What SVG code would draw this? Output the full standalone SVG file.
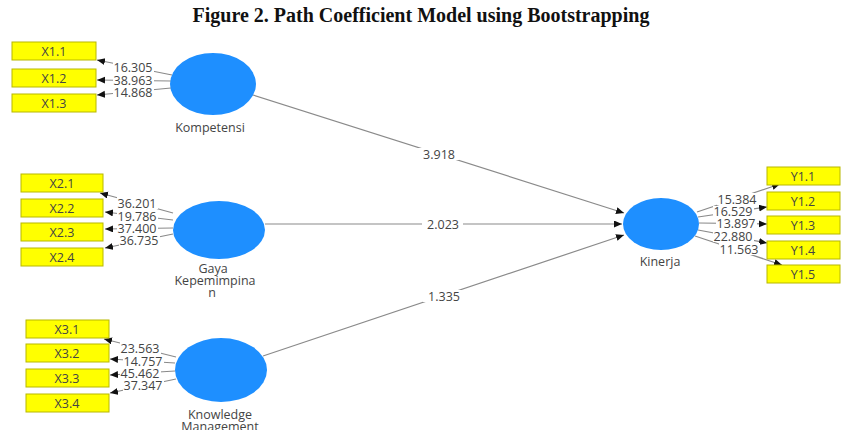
<svg xmlns="http://www.w3.org/2000/svg" width="841" height="430" viewBox="0 0 841 430">
  <style>
    .title { font-family: "Liberation Serif", "Times New Roman", serif; font-weight: bold; font-size: 20px; fill: #111; }
    .txt { font-family: "Open Sans", "Noto Sans", sans-serif; font-size: 12.5px; fill: #444; }
    .num { font-family: "Open Sans", "Noto Sans", sans-serif; font-size: 12.5px; fill: #444; text-anchor: middle; }
    .ind rect { fill: #ffff00; stroke: #b8b800; stroke-width: 1; }
    .ind text { font-family: "Open Sans", "Noto Sans", sans-serif; font-size: 12.5px; fill: #444; text-anchor: middle; }
    .lat ellipse { fill: #1e8fff; }
    .lat text { font-family: "Open Sans", "Noto Sans", sans-serif; font-size: 12.5px; fill: #444; text-anchor: middle; }
    .edge line { stroke: #8a8a8a; stroke-width: 1.2; marker-end: url(#head); }
    .bg { fill: #ffffff; }
  </style>
  <defs>
    <marker id="head" markerUnits="userSpaceOnUse" markerWidth="9" markerHeight="8" refX="8" refY="3.5" orient="auto">
      <path d="M0,0 L8,3.5 L0,7 z" fill="#111"/>
    </marker>
  </defs>

  <rect width="841" height="430" fill="#ffffff"/>
  <text class="title" x="421" y="22" text-anchor="middle">Figure 2. Path Coefficient Model using Bootstrapping</text>

  <!-- connectors -->
  <g id="connectors">
    <g class="edge">
      <!-- Kompetensi loadings -->
      <line x1="172" y1="75" x2="97" y2="60"/>
      <line x1="171" y1="81" x2="97" y2="80"/>
      <line x1="171" y1="88" x2="97" y2="95"/>
      <!-- Gaya Kepemimpinan loadings -->
      <line x1="173" y1="213" x2="100" y2="193"/>
      <line x1="173" y1="220" x2="105" y2="212"/>
      <line x1="173" y1="228" x2="105" y2="229"/>
      <line x1="173" y1="234" x2="105" y2="248"/>
      <!-- Knowledge Management loadings -->
      <line x1="176" y1="357" x2="104" y2="339"/>
      <line x1="175" y1="363" x2="110" y2="359"/>
      <line x1="175" y1="371" x2="110" y2="375"/>
      <line x1="176" y1="379" x2="110" y2="393"/>
      <!-- Kinerja loadings -->
      <line x1="697" y1="212" x2="780" y2="184"/>
      <line x1="698" y1="217" x2="767" y2="207"/>
      <line x1="699" y1="223" x2="767" y2="224"/>
      <line x1="698" y1="230" x2="767" y2="243"/>
      <line x1="695" y1="236" x2="782" y2="265"/>
      <!-- structural paths -->
      <line x1="253" y1="95" x2="624" y2="213"/>
      <line x1="265" y1="224" x2="622" y2="224"/>
      <line x1="263" y1="356" x2="624" y2="235"/>
    </g>

    <!-- coefficient labels -->
    <g id="coef">
      <rect class="bg" x="113" y="61" width="41" height="12"/><text class="num" x="133" y="71.5">16.305</text>
      <rect class="bg" x="113" y="75" width="41" height="12"/><text class="num" x="133" y="85">38.963</text>
      <rect class="bg" x="113" y="87" width="41" height="11"/><text class="num" x="133" y="96.5">14.868</text>

      <rect class="bg" x="117" y="197" width="41" height="12"/><text class="num" x="137" y="207.5">36.201</text>
      <rect class="bg" x="117" y="211" width="41" height="11"/><text class="num" x="137" y="221">19.786</text>
      <rect class="bg" x="117" y="223" width="41" height="11"/><text class="num" x="137" y="233">37.400</text>
      <rect class="bg" x="119" y="235" width="41" height="11"/><text class="num" x="139" y="245">36.735</text>

      <rect class="bg" x="120" y="342" width="41" height="12"/><text class="num" x="140" y="352.5">23.563</text>
      <rect class="bg" x="123" y="356" width="41" height="11"/><text class="num" x="143" y="366">14.757</text>
      <rect class="bg" x="120" y="368" width="41" height="11"/><text class="num" x="140" y="377.5">45.462</text>
      <rect class="bg" x="123" y="380" width="41" height="11"/><text class="num" x="143" y="390">37.347</text>

      <rect class="bg" x="717" y="193" width="41" height="12"/><text class="num" x="737" y="203.5">15.384</text>
      <rect class="bg" x="713" y="206" width="41" height="11"/><text class="num" x="733" y="216">16.529</text>
      <rect class="bg" x="716" y="218" width="41" height="11"/><text class="num" x="736" y="227.5">13.897</text>
      <rect class="bg" x="713" y="230" width="41" height="12"/><text class="num" x="733" y="240.5">22.880</text>
      <rect class="bg" x="719" y="243" width="41" height="12"/><text class="num" x="739" y="253.5">11.563</text>

      <rect class="bg" x="418" y="148" width="41" height="12"/><text class="num" x="439" y="158.5">3.918</text>
      <rect class="bg" x="422" y="218" width="41" height="12"/><text class="num" x="443" y="228.5">2.023</text>
      <rect class="bg" x="423" y="290" width="41" height="12"/><text class="num" x="444" y="300.5">1.335</text>
    </g>
  </g>

  <!-- latent variables -->
  <g id="kompetensi" class="lat">
    <ellipse cx="213" cy="84" rx="43" ry="31"/>
    <text x="210" y="132">Kompetensi</text>
  </g>
  <g id="gaya-kepemimpinan" class="lat">
    <ellipse cx="219" cy="230" rx="46" ry="29"/>
    <text x="213" y="273">Gaya</text>
    <text x="215" y="285">Kepemimpina</text>
    <text x="212" y="297">n</text>
  </g>
  <g id="knowledge-management" class="lat">
    <ellipse cx="221" cy="370" rx="46" ry="32"/>
    <text x="220" y="419">Knowledge</text>
    <text x="220" y="431">Management</text>
  </g>
  <g id="kinerja" class="lat">
    <ellipse cx="661" cy="224" rx="38" ry="26"/>
    <text x="660" y="266">Kinerja</text>
  </g>

  <!-- indicators -->
  <g id="x1-1" class="ind"><rect x="12" y="42" width="84" height="18"/><text x="54" y="55.5">X1.1</text></g>
  <g id="x1-2" class="ind"><rect x="12" y="69" width="84" height="18"/><text x="54" y="82.5">X1.2</text></g>
  <g id="x1-3" class="ind"><rect x="12" y="94" width="84" height="18"/><text x="54" y="107.5">X1.3</text></g>

  <g id="x2-1" class="ind"><rect x="21" y="174" width="82" height="18"/><text x="62" y="187.5">X2.1</text></g>
  <g id="x2-2" class="ind"><rect x="21" y="199" width="82" height="18"/><text x="62" y="212.5">X2.2</text></g>
  <g id="x2-3" class="ind"><rect x="21" y="223" width="82" height="18"/><text x="62" y="236.5">X2.3</text></g>
  <g id="x2-4" class="ind"><rect x="21" y="248" width="82" height="18"/><text x="62" y="261.5">X2.4</text></g>

  <g id="x3-1" class="ind"><rect x="26" y="320" width="83" height="18"/><text x="67" y="333.5">X3.1</text></g>
  <g id="x3-2" class="ind"><rect x="26" y="344" width="83" height="18"/><text x="67" y="357.5">X3.2</text></g>
  <g id="x3-3" class="ind"><rect x="26" y="369" width="83" height="18"/><text x="67" y="382.5">X3.3</text></g>
  <g id="x3-4" class="ind"><rect x="26" y="394" width="83" height="18"/><text x="67" y="407.5">X3.4</text></g>

  <g id="y1-1" class="ind"><rect x="767" y="167" width="73" height="18"/><text x="803" y="180.5">Y1.1</text></g>
  <g id="y1-2" class="ind"><rect x="767" y="192" width="73" height="18"/><text x="803" y="205.5">Y1.2</text></g>
  <g id="y1-3" class="ind"><rect x="767" y="216" width="73" height="18"/><text x="803" y="229.5">Y1.3</text></g>
  <g id="y1-4" class="ind"><rect x="767" y="241" width="73" height="18"/><text x="803" y="254.5">Y1.4</text></g>
  <g id="y1-5" class="ind"><rect x="767" y="265" width="73" height="18"/><text x="803" y="278.5">Y1.5</text></g>
</svg>
